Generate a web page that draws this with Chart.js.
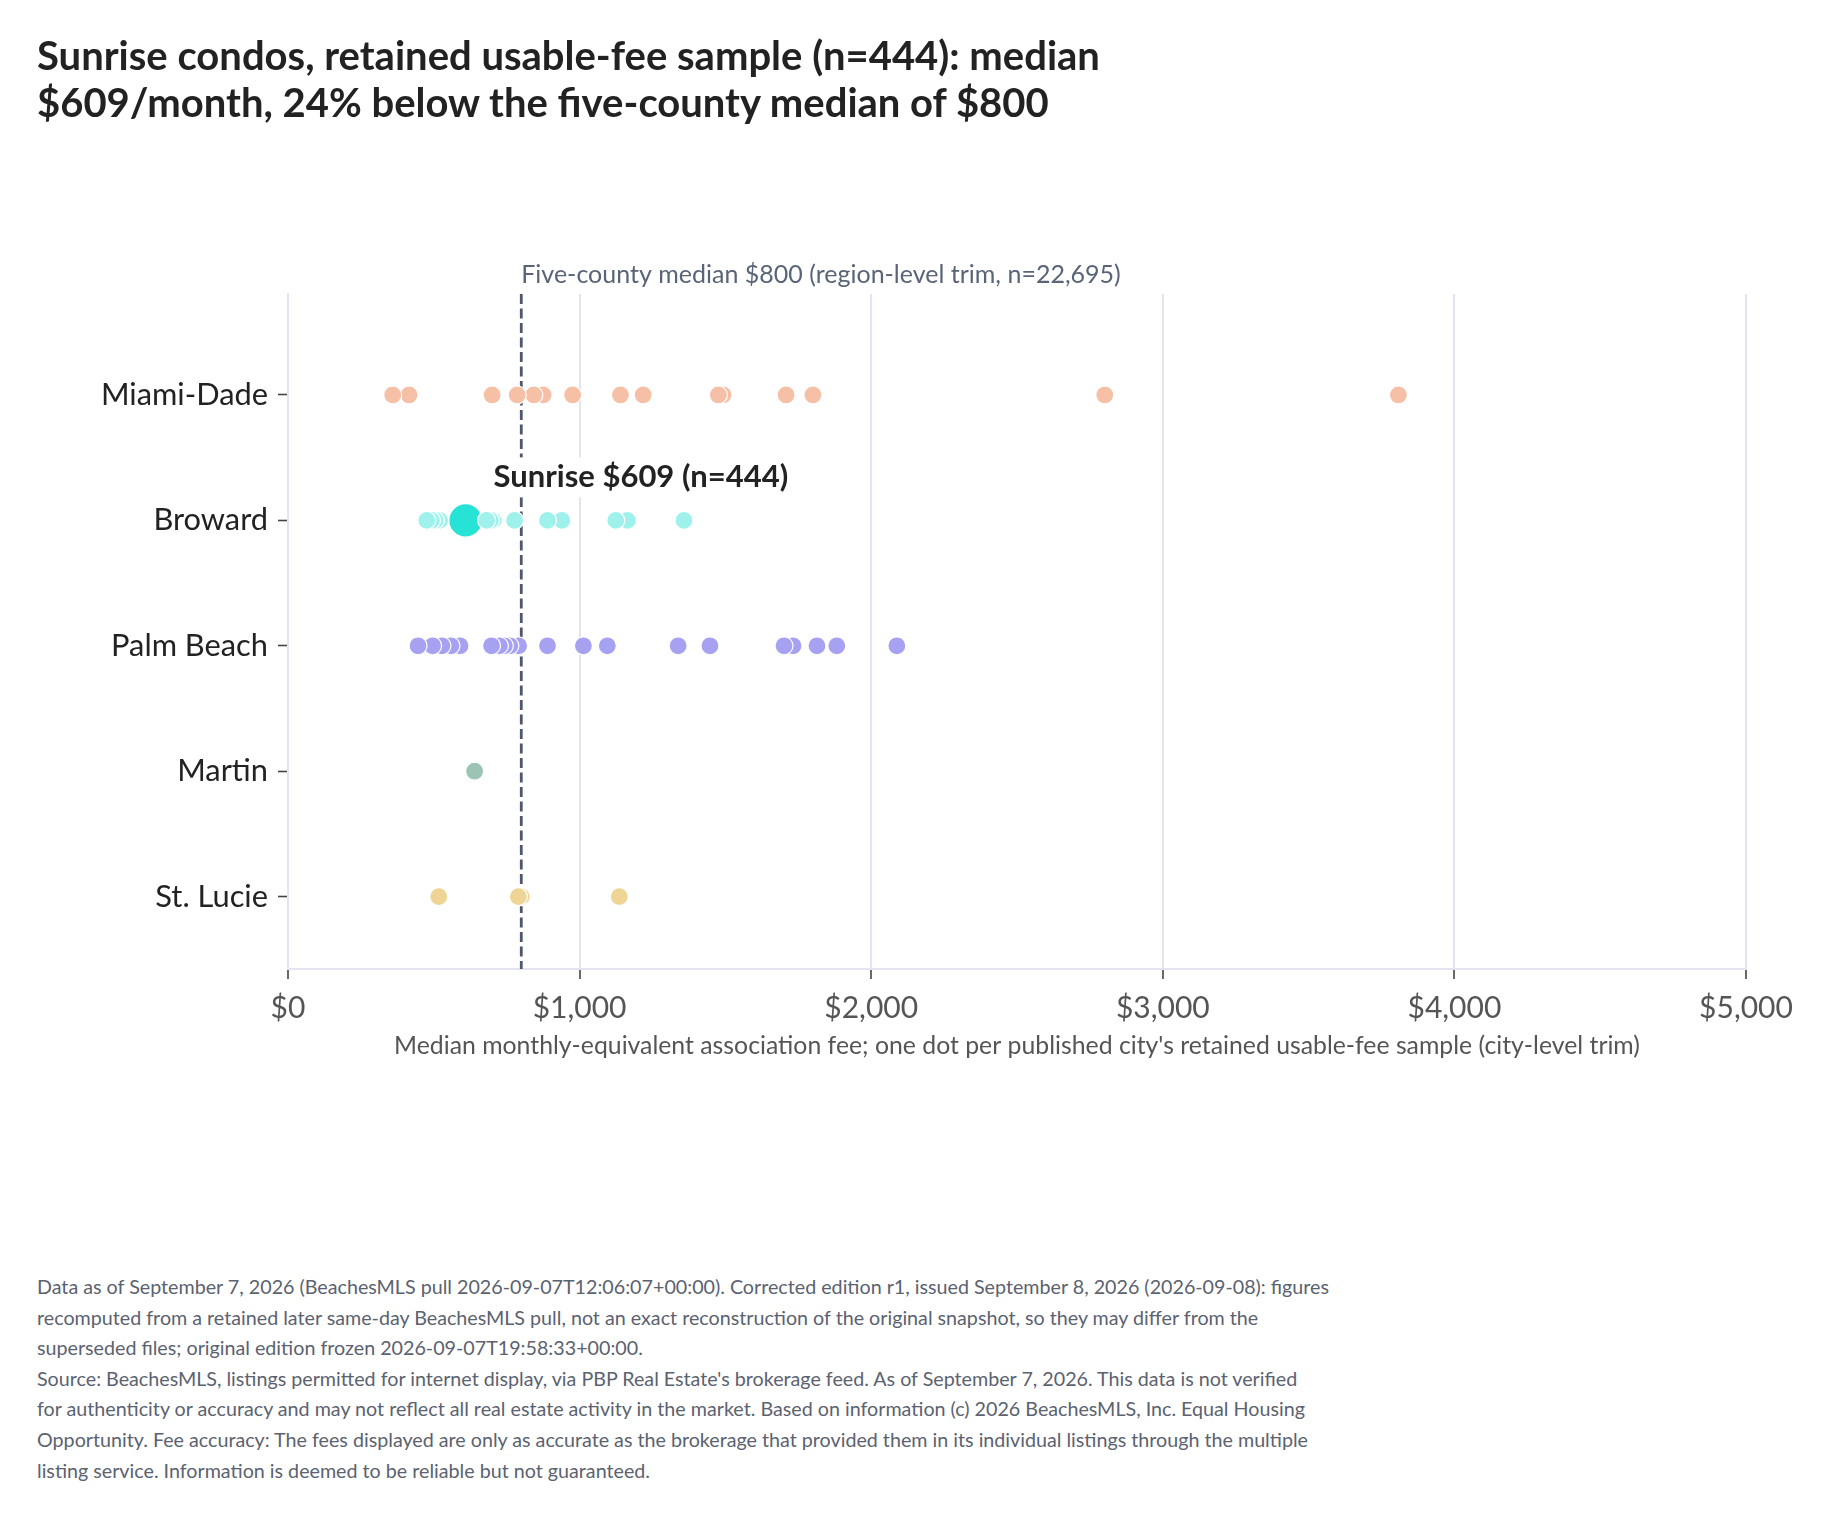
<!DOCTYPE html>
<html>
<head>
<meta charset="utf-8">
<script src="https://cdn.jsdelivr.net/npm/chart.js@4.4.1/dist/chart.umd.min.js"></script>
<style>
  html, body { margin: 0; padding: 0; background: #ffffff; }
  body { width: 1830px; height: 1517px; position: relative; overflow: hidden; font-family: Lato, "Noto Sans", sans-serif; }
  #title { position: absolute; left: 37px; top: 32px; font-size: 40px; line-height: 47.3px; font-weight: 700; color: #222222; white-space: nowrap; }
  #chartWrap { position: absolute; left: 0; top: 0; width: 1830px; height: 1100px; }
  #foot { position: absolute; left: 37px; top: 1272px; font-size: 19.7px; line-height: 30.6px; color: #5b6270; white-space: nowrap; }
</style>
</head>
<body>
<div id="chartWrap"><canvas id="c" width="1830" height="1100"></canvas></div>
<div id="title">Sunrise condos, retained usable-fee sample (n=444): median<br>$609/month, 24% below the five-county median of $800</div>
<div id="foot">Data as of September 7, 2026 (BeachesMLS pull 2026-09-07T12:06:07+00:00). Corrected edition r1, issued September 8, 2026 (2026-09-08): figures<br>recomputed from a retained later same-day BeachesMLS pull, not an exact reconstruction of the original snapshot, so they may differ from the<br>superseded files; original edition frozen 2026-09-07T19:58:33+00:00.<br>Source: BeachesMLS, listings permitted for internet display, via PBP Real Estate's brokerage feed. As of September 7, 2026. This data is not verified<br>for authenticity or accuracy and may not reflect all real estate activity in the market. Based on information (c) 2026 BeachesMLS, Inc. Equal Housing<br>Opportunity. Fee accuracy: The fees displayed are only as accurate as the brokerage that provided them in its individual listings through the multiple<br>listing service. Information is deemed to be reliable but not guaranteed.</div>
<script>
// ---- data ----
const counties = ["Miami-Dade", "Broward", "Palm Beach", "Martin", "St. Lucie"];
const miamiDade = [359, 415, 700, 786, 843, 875, 976, 1140, 1218, 1476, 1492, 1708, 1800, 2801, 3808];
const broward = [476, 492, 505, 520, 681, 694, 703, 777, 890, 939, 1124, 1164, 1358];
const palmBeach = [446, 496, 528, 559, 590, 698, 725, 742, 761, 791, 890, 1013, 1095, 1338, 1447, 1701, 1732, 1814, 1882, 2088];
const martin = [640];
const stLucie = [517, 790, 800, 1136];
const sunriseValue = 609;
const sunriseCounty = "Broward";
const regionMedian = 800;
const xTicks = [0, 1000, 2000, 3000, 4000, 5000];
const medianLabel = "Five-county median $800 (region-level trim, n=22,695)";
const sunriseLabel = "Sunrise $609 (n=444)";
const xTitle = "Median monthly-equivalent association fee; one dot per published city's retained usable-fee sample (city-level trim)";

const seriesColors = ["#f5c0a6", "#9ff2ec", "#a7a1f2", "#9cc4b4", "#efd595"];
const sunriseColor = "#26e3d6";
const seriesValues = [miamiDade, broward, palmBeach, martin, stLucie];

function pts(values, row) {
  return values.slice().sort((a, b) => b - a).map(v => ({ x: v, y: row }));
}

const datasets = seriesValues.map((vals, i) => ({
  label: counties[i],
  data: pts(vals, i),
  backgroundColor: seriesColors[i],
  borderColor: "#ffffff",
  borderWidth: 1.2,
  pointRadius: 9,
  pointHoverRadius: 9
}));
datasets.push({
  label: "Sunrise",
  data: [{ x: sunriseValue, y: counties.indexOf(sunriseCounty) }],
  backgroundColor: sunriseColor,
  borderColor: "#ffffff",
  borderWidth: 1.2,
  pointRadius: 16.8,
  pointHoverRadius: 16.8
});

const overlay = {
  id: "overlay",
  beforeDatasetsDraw(chart) {
    const { ctx, chartArea, scales } = chart;
    const px = scales.x.getPixelForValue(regionMedian);
    ctx.save();
    ctx.strokeStyle = "#4e576b";
    ctx.lineWidth = 2.8;
    ctx.setLineDash([10, 4.5]);
    ctx.beginPath();
    ctx.moveTo(px, chartArea.top);
    ctx.lineTo(px, chartArea.bottom);
    ctx.stroke();
    ctx.setLineDash([]);
    ctx.font = "25px Lato";
    ctx.fillStyle = "#5a6478";
    ctx.textAlign = "left";
    ctx.textBaseline = "alphabetic";
    ctx.fillText(medianLabel, px, chartArea.top - 11.5);
    ctx.restore();
  },
  afterDatasetsDraw(chart) {
    const { ctx, scales } = chart;
    const sx = scales.x.getPixelForValue(sunriseValue) + 28;
    const rowY = scales.y.getPixelForValue(counties.indexOf(sunriseCounty));
    ctx.save();
    ctx.font = "bold 31px Lato";
    const w = ctx.measureText(sunriseLabel).width;
    ctx.fillStyle = "#ffffff";
    ctx.fillRect(sx - 6, rowY - 63, w + 12, 40);
    ctx.fillStyle = "#222222";
    ctx.textAlign = "left";
    ctx.textBaseline = "alphabetic";
    ctx.fillText(sunriseLabel, sx, rowY - 33);
    ctx.restore();
  }
};

function build() {
  new Chart(document.getElementById("c"), {
    type: "scatter",
    data: { datasets },
    plugins: [overlay],
    options: {
      responsive: false,
      animation: false,
      events: [],
      layout: { padding: { top: 294, left: 0, right: 84, bottom: 0 } },
      plugins: { legend: { display: false }, tooltip: { enabled: false } },
      scales: {
        x: {
          type: "linear",
          min: 0,
          max: 5000,
          afterBuildTicks(scale) { scale.ticks = xTicks.map(v => ({ value: v })); },
          afterFit(scale) { scale.height = 131; },
          grid: { color: "#e3e4f0", lineWidth: 2, tickColor: "#444444", tickLength: 10, tickWidth: 1.6 },
          border: { color: "#e3e4f0", width: 2 },
          ticks: {
            padding: 11,
            color: "#555555",
            font: { family: "Lato", size: 30 },
            callback: v => "$" + Number(v).toLocaleString("en-US")
          },
          title: {
            display: true,
            text: xTitle,
            color: "#555555",
            font: { family: "Lato", size: 24.8 },
            padding: { top: 0, bottom: 39 }
          }
        },
        y: {
          type: "linear",
          reverse: true,
          min: -0.805,
          max: 4.577,
          afterBuildTicks(scale) { scale.ticks = counties.map((c, i) => ({ value: i })); },
          afterFit(scale) { scale.width = 288; },
          grid: { drawOnChartArea: false, drawTicks: true, tickColor: "#444444", tickLength: 10, tickWidth: 1.6 },
          border: { color: "#e3e4f0", width: 2 },
          ticks: {
            padding: 10,
            color: "#222222",
            font: { family: "Lato", size: 30.8 },
            callback: v => counties[v] ?? ""
          }
        }
      }
    }
  });
}

const fontLoads = [document.fonts.load("30px Lato"), document.fonts.load("bold 30px Lato")];
Promise.all(fontLoads).then(build, build);
</script>
</body>
</html>
